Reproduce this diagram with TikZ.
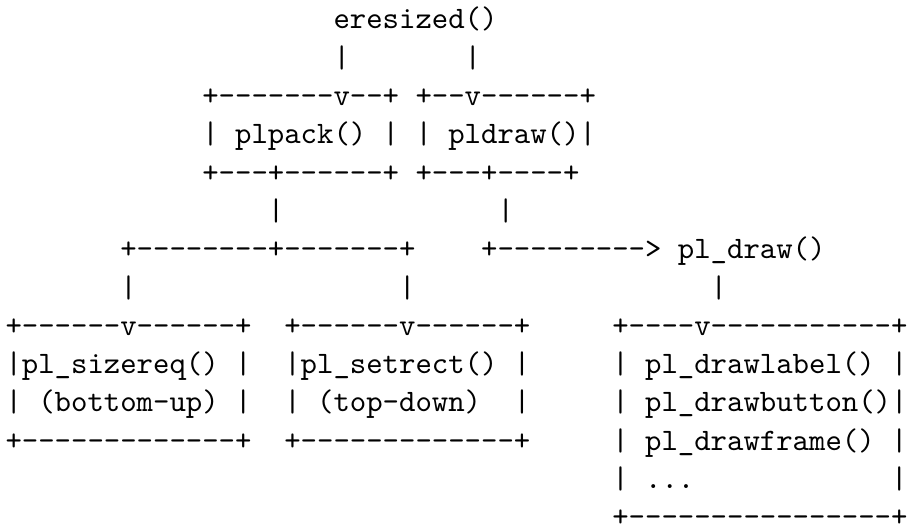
\documentclass[tikz,border=0pt]{standalone}
\begin{document}
\begin{tikzpicture}[x=1pt,y=1pt,
  ascii/.style={anchor=base west, inner sep=0pt, outer sep=0pt,
    font=\fontsize{10}{12}\selectfont\ttfamily}]
% page frame
\fill[white] (0,0) rectangle (908,529);
\useasboundingbox (0,0) rectangle (908,529);
% character cell: 16.4pt wide, 38.3pt line pitch (10pt mono scaled by 3.124)
\newcommand\cellx[1]{5.5+16.4*#1}
\newcommand\celly[1]{500-38.3*(#1-1)}
% n blank character cells
\newcommand\bl[1]{\hspace*{\dimexpr#1\fontcharwd\font`\x\relax}}
\newcommand\tline[1]{\scalebox{3.124}{#1}}
\node[ascii] (line1)  at ({\cellx{20}},{\celly{1}})  {\tline{eresized()}};
\node[ascii] (line2)  at ({\cellx{20}},{\celly{2}})  {\tline{|\bl{7}|}};
\node[ascii] (line3)  at ({\cellx{12}},{\celly{3}})  {\tline{+-------v--+\bl{1}+--v------+}};
\node[ascii] (line4)  at ({\cellx{12}},{\celly{4}})  {\tline{|\bl{1}plpack()\bl{1}|\bl{1}|\bl{1}pldraw()|}};
\node[ascii] (line5)  at ({\cellx{12}},{\celly{5}})  {\tline{+---+------+\bl{1}+---+----+}};
\node[ascii] (line6)  at ({\cellx{16}},{\celly{6}})  {\tline{|\bl{13}|}};
\node[ascii] (line7)  at ({\cellx{7}},{\celly{7}})   {\tline{+--------+-------+\bl{4}+--------->\bl{1}pl\_draw()}};
\node[ascii] (line8)  at ({\cellx{7}},{\celly{8}})   {\tline{|\bl{16}|\bl{18}|}};
\node[ascii] (line9)  at ({\cellx{0}},{\celly{9}})   {\tline{+------v------+\bl{2}+------v------+\bl{5}+----v-----------+}};
\node[ascii] (line10) at ({\cellx{0}},{\celly{10}})  {\tline{|pl\_sizereq()\bl{1}|\bl{2}|pl\_setrect()\bl{1}|\bl{5}|\bl{1}pl\_drawlabel()\bl{1}|}};
\node[ascii] (line11) at ({\cellx{0}},{\celly{11}})  {\tline{|\bl{1}(bottom-up)\bl{1}|\bl{2}|\bl{1}(top-down)\bl{2}|\bl{5}|\bl{1}pl\_drawbutton()|}};
\node[ascii] (line12) at ({\cellx{0}},{\celly{12}})  {\tline{+-------------+\bl{2}+-------------+\bl{5}|\bl{1}pl\_drawframe()\bl{1}|}};
\node[ascii] (line13) at ({\cellx{37}},{\celly{13}}) {\tline{|\bl{1}...\bl{12}|}};
\node[ascii] (line14) at ({\cellx{37}},{\celly{14}}) {\tline{+----------------+}};
\end{tikzpicture}
\end{document}
